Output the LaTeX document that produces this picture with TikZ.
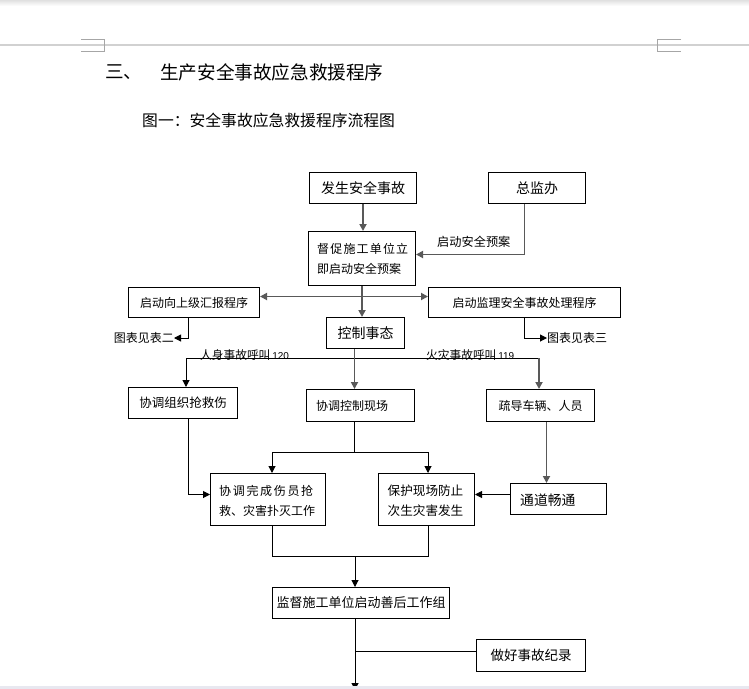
\documentclass[tikz,border=0pt]{standalone}
\usepackage{fontspec}
\setmainfont{Noto Sans CJK SC}
\newfontfamily\numfont{Liberation Sans}
\usetikzlibrary{arrows.meta,positioning,calc}
\definecolor{band}{RGB}{232,232,240}
\newcommand{\fs}[1]{\fontsize{#1pt}{#1pt}\selectfont}

\begin{document}
\begin{tikzpicture}[x=1pt,y=-1pt,>={Triangle[length=7pt,width=7pt]}]
\begin{scope}

\tikzstyle{box} = [draw,line width=1pt,inner sep=0pt,anchor=north west];
\tikzstyle{word} = [inner sep=0pt];
\tikzstyle{glink} = [draw=black!65,line width=1.8pt];
\tikzstyle{blink} = [draw=black,line width=1pt];

% page
\useasboundingbox (0,0) rectangle (749,688);
\fill[white] (0,0) rectangle (749,688);
\shade[top color=black!12,bottom color=white] (0,0) rectangle (749,6);
\draw[black!18,line width=1.2pt] (0,45) -- (749,45);
\draw[black!35,line width=0.8pt] (81,39) -- (104,39) -- (104,51) -- (81,51);
\draw[black!35,line width=0.8pt] (681,39) -- (657,39) -- (657,51) -- (681,51);

\node [word,anchor=west] (h0) at (105,72) {\fs{18.6}三、};
\node [word,anchor=west] (h1) at (160,72) {\fs{18.6}生产安全事故应急救援程序};
\node [word,anchor=west] (h2) at (142,120) {\fs{15.8}图一：安全事故应急救援程序流程图};

\node [box,minimum width=107pt,minimum height=31pt] (s1) at (309,172) {\fs{14}发生安全事故};
\node [box,minimum width=97pt,minimum height=31pt] (s0) at (488,172) {\fs{14}总监办};
\node [box,minimum width=107pt,minimum height=54pt] (s2) at (308,231) {};
\node [word,anchor=west] (s21) at ([xshift=9pt,yshift=10pt]s2.west) {\fs{12}\makebox[91pt][s]{督\hfill 促\hfill 施\hfill 工\hfill 单\hfill 位\hfill 立}};
\node [word,anchor=west] (s22) at ([xshift=9pt,yshift=-10pt]s2.west) {\fs{12}即启动安全预案};
\node [word,anchor=west] (l1) at (437,242) {\fs{12.2}启动安全预案};
\node [box,minimum width=131pt,minimum height=30pt] (s3) at (128,287) {\fs{12}启动向上级汇报程序};
\node [box,minimum width=192pt,minimum height=30pt] (s4) at (428,287) {\fs{12}启动监理安全事故处理程序};
\node [box,minimum width=78pt,minimum height=31pt] (s5) at (326,317) {\fs{14}控制事态};
\node [word,anchor=east] (t2) at (174,338) {\fs{12}图表见表二};
\node [word,anchor=west] (t3) at (547,338) {\fs{12}图表见表三};

\node [word,anchor=south west] (l2) at (200,361) {\fs{11.7}人身事故呼叫\,{\numfont\fs{10}120}};
\node [word,anchor=south west] (l3) at (426,361) {\fs{11.7}火灾事故呼叫\,{\numfont\fs{10}119}};

\node [box,minimum width=109pt,minimum height=31pt] (r1) at (128,387) {\fs{12.5}协调组织抢救伤};
\node [box,minimum width=108pt,minimum height=32pt] (r2) at (306,389) {};
\node [word,anchor=west] (r21) at ([xshift=10pt]r2.west) {\fs{12}协调控制现场};
\node [box,minimum width=108pt,minimum height=32pt] (r3) at (486,389) {\fs{12}疏导车辆、人员};
\node [box,minimum width=115pt,minimum height=52pt] (r4) at (210,473) {};
\node [word,anchor=west] (r41) at ([xshift=9pt,yshift=9pt]r4.west) {\fs{12}\makebox[94pt][s]{协\hfill 调\hfill 完\hfill 成\hfill 伤\hfill 员\hfill 抢}};
\node [word,anchor=west] (r42) at ([xshift=9pt,yshift=-11pt]r4.west) {\fs{12}救、灾害扑灭工作};
\node [box,minimum width=96pt,minimum height=52pt] (r5) at (378,473) {};
\node [word,anchor=west] (r51) at ([xshift=9.5pt,yshift=9pt]r5.west) {\fs{12.6}保护现场防止};
\node [word,anchor=west] (r52) at ([xshift=9.5pt,yshift=-11pt]r5.west) {\fs{12.6}次生灾害发生};
\node [box,minimum width=96pt,minimum height=31pt] (r6) at (510,483) {};
\node [word,anchor=west] (r61) at ([xshift=10pt,yshift=-1pt]r6.west) {\fs{13.8}通道畅通};

\node [box,minimum width=177pt,minimum height=31pt] (f1) at (272,587) {\fs{13}监督施工单位启动善后工作组};
\node [box,minimum width=109pt,minimum height=32pt] (f2) at (476,639) {\fs{13.5}做好事故纪录};

\coordinate (c1) at (186,358);
\coordinate (c2) at (539,358);
\coordinate (c3) at (272,452);
\coordinate (c4) at (428,452);
\coordinate (c5) at (272,556);
\coordinate (c6) at (428,556);
\coordinate (c7) at (355,556);
\coordinate (c8) at (355,690);
\coordinate (m1) at ([xshift=-11pt]s5.south);
\coordinate (m2) at ([xshift=-6pt]r2.south);
\coordinate (d1) at ([yshift=4pt]f2.west);
\coordinate (d2) at ([yshift=4.5pt]r6.west);
\coordinate (d3) at ([xshift=6pt]r3.south);

\draw [glink,->] (s1.south) -- (s1.south |- s2.north);
\draw [glink,->] ([xshift=-12.5pt]s0.south) |- ([yshift=4pt]s2.east);
\draw [glink,<->] ([yshift=6pt]s3.east) -- ([yshift=6pt]s4.west);
\draw [glink,->] (s2.south) -- (s2.south |- s5.north);
\draw [blink,->] ([xshift=-5.5pt]s3.south) |- (t2.east);
\draw [blink,->] (s4.south) |- (t3.west);

\draw [glink] (m1) -- (m1 |- c1);
\draw [blink] (c1) -- (c2);
\draw [blink,->] (c1) -- (c1 |- r1.north);
\draw [glink,->] (m1 |- c1) -- ([xshift=-6pt]r2.north);
\draw [glink,->] (c2) -- (c2 |- r3.north);

\draw [blink] (m2) -- (m2 |- c3);
\draw [blink] (c3) -- (c4);
\draw [blink,->] (c3) -- (c3 |- r4.north);
\draw [blink,->] (c4) -- (c4 |- r5.north);
\draw [blink,->] ([xshift=5.5pt]r1.south) |- ([yshift=5pt]r4.west);
\draw [glink,->] (d3) -- (d3 |- r6.north);
\draw [blink,->] (d2) -- (d2 -| r5.east);

\draw [blink] (r4.south -| c5) -- (c5) -- (c6) -- (r5.south -| c6);
\draw [blink,->] (c7) -- (c7 |- f1.north);
\draw [blink,->] (f1.south -| c7) -- (c8);
\draw [blink] (d1 -| c7) -- (d1);

\fill[band] (0,686) rectangle (749,690);

\end{scope}
\end{tikzpicture}
\end{document}
